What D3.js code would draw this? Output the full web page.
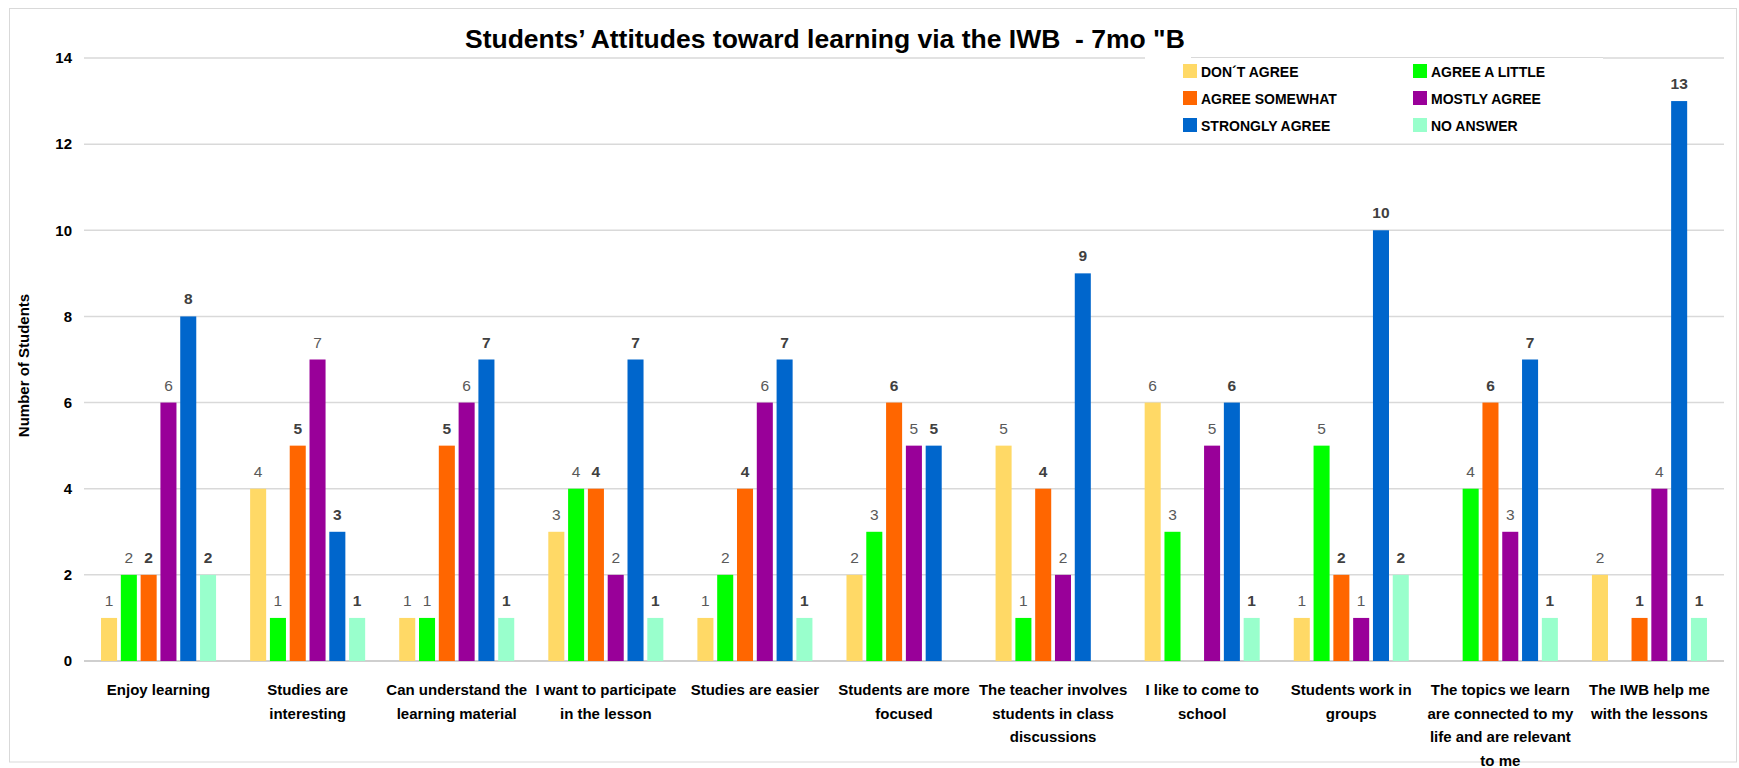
<!DOCTYPE html>
<html>
<head>
<meta charset="utf-8">
<script src="https://cdn.jsdelivr.net/npm/d3@7"></script>
<style>
  html, body { margin: 0; padding: 0; background: #fff; }
  svg { display: block; }
  text { font-family: "Liberation Sans Narrow", "Liberation Sans", Arial, sans-serif; }
</style>
</head>
<body>
<svg id="chart" width="1739" height="768"></svg>
<script>
// Survey categories (each label is split into its wrapped lines)
const categories = [
  ["Enjoy learning"],
  ["Studies are", "interesting"],
  ["Can understand the", "learning material"],
  ["I want to participate", "in the lesson"],
  ["Studies are easier"],
  ["Students are more", "focused"],
  ["The teacher involves", "students in class", "discussions"],
  ["I like to come to", "school"],
  ["Students work in", "groups"],
  ["The topics we learn", "are connected to my", "life and are relevant", "to me"],
  ["The IWB help me", "with the lessons"]
];

const seriesNames = ["DON\u00B4T AGREE", "AGREE A LITTLE", "AGREE SOMEWHAT", "MOSTLY AGREE", "STRONGLY AGREE", "NO ANSWER"];
const seriesColors = ["#FFD966", "#00FF00", "#FF6600", "#990099", "#0066CC", "#99FFCC"];
// answer counts per series, one entry per category (null = no bar)
const dontAgree       = [1, 4, 1, 3, 1, 2, 5, 6, 1, null, 2];
const agreeALittle    = [2, 1, 1, 4, 2, 3, 1, 3, 5, 4, null];
const agreeSomewhat   = [2, 5, 5, 4, 4, 6, 4, null, 2, 6, 1];
const mostlyAgree     = [6, 7, 6, 2, 6, 5, 2, 5, 1, 3, 4];
const stronglyAgree   = [8, 3, 7, 7, 7, 5, 9, 6, 10, 7, 13];
const noAnswer        = [2, 1, 1, 1, 1, null, null, 1, 2, 1, 1];
const seriesValues = [dontAgree, agreeALittle, agreeSomewhat, mostlyAgree, stronglyAgree, noAnswer];
// series whose data labels are drawn bold
const boldLabels = [false, false, true, false, true, true];

const yTicks = [0, 2, 4, 6, 8, 10, 12, 14];
const titleText = "Students\u2019 Attitudes toward learning via the IWB  - 7mo \"B";
const yTitle = "Number of Students";

const svg = d3.select("#chart");
const plot = { left: 84, right: 1724, top: 58, bottom: 661 };

// outer chart border
svg.append("rect")
  .attr("x", 9.5).attr("y", 8.5)
  .attr("width", 1727).attr("height", 753.5)
  .attr("fill", "#fff").attr("stroke", "#d9d9d9").attr("stroke-width", 1);

const y = d3.scaleLinear().domain([0, 14]).range([plot.bottom, plot.top]);
const catIdx = d3.range(categories.length);
const x0 = d3.scaleBand().domain(catIdx).range([plot.left, plot.right]).padding(0);
const x1 = d3.scaleBand().domain(d3.range(seriesNames.length))
  .range([0, x0.bandwidth()]).paddingInner(0.19).paddingOuter(0.86);

// gridlines
svg.append("g").selectAll("line").data(yTicks).join("line")
  .attr("x1", plot.left).attr("x2", plot.right)
  .attr("y1", d => y(d)).attr("y2", d => y(d))
  .attr("stroke", d => d === 0 ? "#bfbfbf" : "#d9d9d9")
  .attr("stroke-width", 1.5);

// y axis tick labels
const yAxis = d3.axisLeft(y).tickValues(yTicks).tickSize(0).tickPadding(0);
const gy = svg.append("g").attr("transform", `translate(${plot.left - 12},0)`).call(yAxis);
gy.select(".domain").remove();
gy.selectAll("text")
  .attr("font-family", "'Liberation Sans Narrow', 'Liberation Sans', Arial, sans-serif")
  .attr("font-size", 15).attr("font-weight", "bold").attr("fill", "#000");

// y axis title
svg.append("text")
  .attr("transform", `translate(29,${(plot.top + plot.bottom) / 2 + 6}) rotate(-90)`)
  .attr("text-anchor", "middle")
  .attr("font-size", 15).attr("font-weight", "bold").attr("fill", "#000")
  .text(yTitle);

// bars
const groups = svg.append("g").selectAll("g").data(catIdx).join("g")
  .attr("transform", i => `translate(${x0(i)},0)`);

const cells = groups.selectAll("g").data(i => seriesValues.map((vals, s) => ({ s, v: vals[i] })).filter(d => d.v != null))
  .join("g");

cells.append("rect")
  .attr("x", d => x1(d.s)).attr("width", x1.bandwidth())
  .attr("y", d => y(d.v)).attr("height", d => y(0) - y(d.v))
  .attr("fill", d => seriesColors[d.s]);

cells.append("text")
  .attr("x", d => x1(d.s) + x1.bandwidth() / 2)
  .attr("y", d => y(d.v) - 12)
  .attr("text-anchor", "middle")
  .attr("font-size", 15.5)
  .attr("font-weight", d => boldLabels[d.s] ? "bold" : "normal")
  .attr("fill", d => boldLabels[d.s] ? "#404040" : "#595959")
  .text(d => d.v);

// category labels
const xl = svg.append("g").selectAll("text").data(catIdx).join("text")
  .attr("x", i => x0(i) + x0.bandwidth() / 2)
  .attr("y", 695)
  .attr("text-anchor", "middle")
  .attr("font-size", 15).attr("font-weight", "bold").attr("fill", "#000");
xl.selectAll("tspan").data(i => categories[i]).join("tspan")
  .attr("x", function() { return this.parentNode.getAttribute("x"); })
  .attr("dy", (d, k) => k === 0 ? 0 : 23.5)
  .text(d => d);

// title, clipped by the legend box
svg.append("clipPath").attr("id", "titleClip")
  .append("rect").attr("x", 0).attr("y", 0).attr("width", 1191).attr("height", 60);
svg.append("text")
  .attr("clip-path", "url(#titleClip)")
  .attr("x", 465).attr("y", 48)
  .style("white-space", "pre")
  .attr("font-size", 26.5).attr("font-weight", "bold").attr("fill", "#000")
  .text(titleText);

// legend box
const lg = svg.append("g");
lg.append("rect").attr("x", 1145).attr("y", 57).attr("width", 458).attr("height", 82).attr("fill", "#fff");
lg.append("line").attr("x1", 1191).attr("x2", 1603).attr("y1", 57.5).attr("y2", 57.5)
  .attr("stroke", "#d9d9d9").attr("stroke-width", 1);
const legendCols = [1183, 1413];
const legendRows = [71, 98, 125];
const items = lg.selectAll("g.item").data(seriesNames.map((n, s) => ({ n, s }))).join("g")
  .attr("class", "item")
  .attr("transform", d => `translate(${legendCols[d.s % 2]},${legendRows[Math.floor(d.s / 2)]})`);
items.append("rect").attr("x", 0).attr("y", -7).attr("width", 14).attr("height", 14)
  .attr("fill", d => seriesColors[d.s]);
items.append("text").attr("x", 18).attr("y", 5.5)
  .attr("font-size", 14).attr("font-weight", "bold").attr("fill", "#000")
  .text(d => d.n);
</script>
</body>
</html>
